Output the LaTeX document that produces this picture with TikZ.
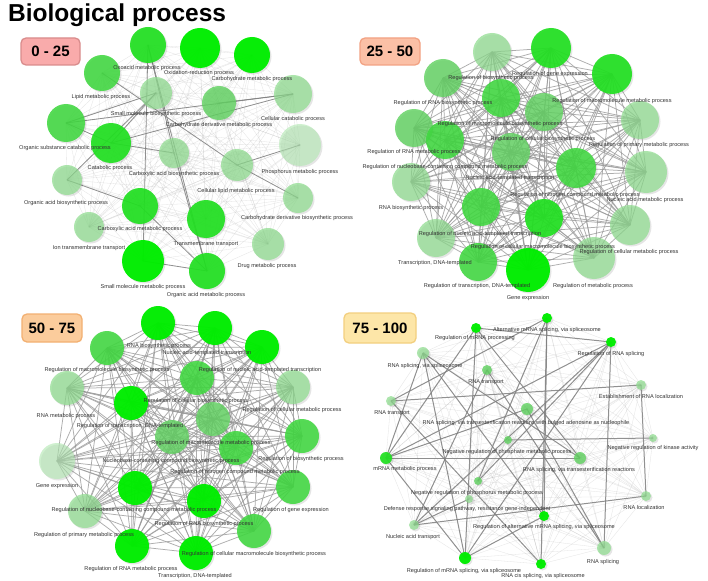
\documentclass[tikz,border=0pt]{standalone}
\usepackage{fontspec}
\setmainfont{Liberation Sans}
\definecolor{G0}{HTML}{00EE00}
\definecolor{G1}{HTML}{22E022}
\definecolor{G2}{HTML}{40D840}
\definecolor{G3}{HTML}{62D262}
\definecolor{G4}{HTML}{8EDC8E}
\definecolor{G5}{HTML}{B2E8B2}
\definecolor{TxtC}{HTML}{333333}
\definecolor{T1f}{HTML}{F9ABAB}\definecolor{T1d}{HTML}{D98C8C}
\definecolor{T2f}{HTML}{FBC0A6}\definecolor{T2d}{HTML}{F2A283}
\definecolor{T3f}{HTML}{FBCC9C}\definecolor{T3d}{HTML}{F2B072}
\definecolor{T4f}{HTML}{FDE6A8}\definecolor{T4d}{HTML}{F3CF7F}
\newcommand\mylab[4]{\node[lbl] (#1) at (#2,#3) {#4};}
\newcommand\mybubbles[2]{%
  \foreach \n/\x/\y/\r/\c in {#2} {
    \fill[black,opacity=0.1] (\x+1.5,\y+1.5) circle[radius=\r];
    \node[bub,\c,minimum size={2*\r*1pt}] (#1C\n) at (#1\n) {};
  }}
\newcommand\mycoords[2]{%
  \foreach \n/\x/\y/\r/\c in {#2} {\coordinate (#1\n) at (\x,\y);}}
\def\listA{1/148/45/18/g1,2/200/48/20/g0,3/252/55/18/g0,4/102/73/18/g2,5/156/93/16/g4,6/219/103/17/g3,7/293/94/19/g4,8/66/123/19/g2,9/111/143/20/g1,10/174/153/15/g4,11/237/165/16/g4,12/300/145/21/g5,13/67/180/15/g4,14/298/198/15/g4,15/140/206/18/g1,16/89/227/15/g4,17/206/219/19/g1,18/268/244/16/g4,19/143/261/21/g0,20/207/271/18/g1}
\def\listB{1/492/52/19/g4,2/551/48/20/g1,3/443/78/19/g3,4/612/74/20/g1,5/501/98/19/g2,6/544/112/19/g3,7/414/128/19/g3,8/640/120/19/g4,9/445/140/19/g2,10/511/152/19/g3,11/576/168/20/g2,12/646/172/21/g4,13/411/182/19/g4,14/481/207/19/g2,15/544/218/19/g1,16/630/225/20/g4,17/436/238/19/g4,18/478/262/19/g2,19/528/270/22/g0,20/594/258/21/g4}
\def\listC{1/158/323/17/g0,2/215/328/17/g0,3/107/348/17/g2,4/262/347/17/g0,5/197/378/17/g2,6/67/388/17/g4,7/293/387/17/g4,8/131/403/17/g0,9/213/419/17/g3,10/302/436/17/g2,11/172/437/17/g3,12/236/448/17/g2,13/57/461/18/g5,14/135/488/17/g0,15/204/501/17/g0,16/293/487/17/g2,17/85/511/17/g4,18/254/531/17/g2,19/132/546/17/g0,20/196/553/17/g0}
\def\listD{1/476/328/5/g0,2/547/318/5/g0,3/611/342/5/g0,4/423/353/6/g4,5/487/370/5/g3,6/641/385/5/g4,7/391/401/5/g4,8/527/409/6/g3,9/653/438/4/g4,10/508/440/4/g3,11/386/458/6/g1,12/580/458/6/g3,13/478/481/4/g3,14/469/499/4/g4,15/646/496/5/g4,16/544/516/5/g0,17/414/525/5/g4,18/604/548/7/g4,19/465/558/6/g0,20/541/564/5/g0}
\begin{document}
\begin{tikzpicture}[x=1pt,y=-1pt,
  lbl/.style={inner sep=0pt,text=TxtC,font=\fontsize{5.6}{6}\selectfont},
  bub/.style={circle,inner sep=0pt,draw=none},
  g0/.style={fill=G0,fill opacity=0.97},
  g1/.style={fill=G1,fill opacity=0.93},
  g2/.style={fill=G2,fill opacity=0.88},
  g3/.style={fill=G3,fill opacity=0.82},
  g4/.style={fill=G4,fill opacity=0.72},
  g5/.style={fill=G5,fill opacity=0.62},
  efaint/.style={line width=0.3pt,black!35,opacity=0.3},
  egrid/.style={line width=0.75pt,black!40,opacity=0.8},
  edark/.style={line width=0.8pt,black!50,opacity=0.85},
  tagbox/.style={rounded corners=5pt,line width=1.3pt,minimum height=27pt,inner sep=0pt,font=\fontsize{15}{16}\bfseries}]
\useasboundingbox (0,0) rectangle (708,580);
\fill[white] (0,0) rectangle (708,580);
% coordinates
\expandafter\mycoords\expandafter{\expandafter a\expandafter}\expandafter{\listA}
\expandafter\mycoords\expandafter{\expandafter b\expandafter}\expandafter{\listB}
\expandafter\mycoords\expandafter{\expandafter c\expandafter}\expandafter{\listC}
\expandafter\mycoords\expandafter{\expandafter d\expandafter}\expandafter{\listD}
% complete graphs
\foreach \p/\st in {a/efaint,b/egrid,c/egrid,d/efaint}{
  \foreach \i in {1,...,19}{
    \pgfmathtruncatemacro{\s}{\i+1}
    \foreach \j in {\s,...,20}{\draw[\st] (\p\i) -- (\p\j);}
  }
}
% darker edges panel 1
\foreach \u/\v in {1/19,1/20,1/10,8/5,8/9,9/7,8/7,6/7,12/11,13/15,13/5,15/20,10/20,19/20,4/11,5/9,11/14,9/10}
  {\draw[edark] (a\u) -- (a\v);}
% darker edges panel 4
\foreach \u/\v in {1/19,1/3,2/16,2/20,3/11,3/19,4/12,5/17,6/7,11/12,17/15,15/6,16/19,11/19,1/11,8/18,10/9,4/19,4/16,13/2,7/20,3/17,1/12,5/18,2/7,8/11,14/17,3/13,4/11,3/18}
  {\draw[edark,line width=1pt] (d\u) -- (d\v);}
% bubbles
\expandafter\mybubbles\expandafter{\expandafter a\expandafter}\expandafter{\listA}
\expandafter\mybubbles\expandafter{\expandafter b\expandafter}\expandafter{\listB}
\expandafter\mybubbles\expandafter{\expandafter c\expandafter}\expandafter{\listC}
\expandafter\mybubbles\expandafter{\expandafter d\expandafter}\expandafter{\listD}
% labels panel 1
\mylab{la1}{147}{68}{Oxoacid metabolic process}
\mylab{la2}{199}{73}{Oxidation-reduction process}
\mylab{la3}{252}{79}{Carbohydrate metabolic process}
\mylab{la4}{101}{97}{Lipid metabolic process}
\mylab{la5}{156}{114}{Small molecule biosynthetic process}
\mylab{la6}{293}{119}{Cellular catabolic process}
\mylab{la7}{219}{125}{Carbohydrate derivative metabolic process}
\mylab{la8}{65}{148}{Organic substance catabolic process}
\mylab{la9}{110}{168}{Catabolic process}
\mylab{la10}{174}{174}{Carboxylic acid biosynthetic process}
\mylab{la11}{300}{172}{Phosphorus metabolic process}
\mylab{la12}{236}{191}{Cellular lipid metabolic process}
\mylab{la13}{66}{203}{Organic acid biosynthetic process}
\mylab{la14}{297}{218}{Carbohydrate derivative biosynthetic process}
\mylab{la15}{140}{229}{Carboxylic acid metabolic process}
\mylab{la16}{89}{248}{Ion transmembrane transport}
\mylab{la17}{206}{244}{Transmembrane transport}
\mylab{la18}{267}{266}{Drug metabolic process}
\mylab{la19}{143}{287}{Small molecule metabolic process}
\mylab{la20}{206}{295}{Organic acid metabolic process}
% labels panel 2
\mylab{lb1}{550}{74}{Regulation of gene expression}
\mylab{lb2}{491}{78}{Regulation of biosynthetic process}
\mylab{lb3}{443}{103}{Regulation of RNA biosynthetic process}
\mylab{lb4}{612}{101}{Regulation of macromolecule metabolic process}
\mylab{lb5}{500}{124}{Regulation of macromolecule biosynthetic process}
\mylab{lb6}{543}{139}{Regulation of cellular biosynthetic process}
\mylab{lb7}{639}{145}{Regulation of primary metabolic process}
\mylab{lb8}{414}{152}{Regulation of RNA metabolic process}
\mylab{lb9}{445}{167}{Regulation of nucleobase-containing compound metabolic process}
\mylab{lb10}{510}{178}{Nucleic acid-templated transcription}
\mylab{lb11}{575}{195}{Regulation of nitrogen compound metabolic process}
\mylab{lb12}{645}{200}{Nucleic acid metabolic process}
\mylab{lb13}{411}{208}{RNA biosynthetic process}
\mylab{lb14}{480}{234}{Regulation of nucleic acid-templated transcription}
\mylab{lb15}{543}{247}{Regulation of cellular macromolecule biosynthetic process}
\mylab{lb16}{629}{252}{Regulation of cellular metabolic process}
\mylab{lb17}{435}{263}{Transcription, DNA-templated}
\mylab{lb18}{477}{286}{Regulation of transcription, DNA-templated}
\mylab{lb19}{593}{286}{Regulation of metabolic process}
\mylab{lb20}{528}{298}{Gene expression}
% labels panel 3
\mylab{lc1}{159}{346}{RNA biosynthetic process}
\mylab{lc2}{207}{353}{Nucleic acid-templated transcription}
\mylab{lc3}{107}{370}{Regulation of macromolecule biosynthetic process}
\mylab{lc4}{260}{370}{Regulation of nucleic acid-templated transcription}
\mylab{lc5}{196}{401}{Regulation of cellular biosynthetic process}
\mylab{lc6}{292}{410}{Regulation of cellular metabolic process}
\mylab{lc7}{66}{416}{RNA metabolic process}
\mylab{lc8}{130}{426}{Regulation of transcription, DNA-templated}
\mylab{lc9}{211}{443}{Regulation of macromolecule metabolic process}
\mylab{lc10}{171}{461}{Nucleobase-containing compound biosynthetic process}
\mylab{lc11}{301}{459}{Regulation of biosynthetic process}
\mylab{lc12}{235}{472}{Regulation of nitrogen compound metabolic process}
\mylab{lc13}{57}{486}{Gene expression}
\mylab{lc14}{134}{510}{Regulation of nucleobase-containing compound metabolic process}
\mylab{lc15}{291}{510}{Regulation of gene expression}
\mylab{lc16}{204}{524}{Regulation of RNA biosynthetic process}
\mylab{lc17}{84}{535}{Regulation of primary metabolic process}
\mylab{lc18}{254}{554}{Regulation of cellular macromolecule biosynthetic process}
\mylab{lc19}{131}{569}{Regulation of RNA metabolic process}
\mylab{lc20}{195}{576}{Transcription, DNA-templated}
% labels panel 4
\mylab{ld1}{547}{330}{Alternative mRNA splicing, via spliceosome}
\mylab{ld2}{475}{338}{Regulation of mRNA processing}
\mylab{ld3}{611}{354}{Regulation of RNA splicing}
\mylab{ld4}{425}{366}{RNA splicing, via spliceosome}
\mylab{ld5}{486}{382}{RNA transport}
\mylab{ld6}{641}{396}{Establishment of RNA localization}
\mylab{ld7}{392}{413}{RNA transport}
\mylab{ld8}{526}{423}{RNA splicing, via transesterification reactions with bulged adenosine as nucleophile}
\mylab{ld9}{507}{452}{Negative regulation of phosphate metabolic process}
\mylab{ld10}{653}{448}{Negative regulation of kinase activity}
\mylab{ld11}{405}{469}{mRNA metabolic process}
\mylab{ld12}{579}{470}{RNA splicing, via transesterification reactions}
\mylab{ld13}{477}{493}{Negative regulation of phosphorus metabolic process}
\mylab{ld14}{467}{509}{Defense response signaling pathway, resistance gene-independent}
\mylab{ld15}{644}{507}{RNA localization}
\mylab{ld16}{544}{527}{Regulation of alternative mRNA splicing, via spliceosome}
\mylab{ld17}{413}{537}{Nucleic acid transport}
\mylab{ld18}{603}{562}{RNA splicing}
\mylab{ld19}{464}{571}{Regulation of mRNA splicing, via spliceosome}
\mylab{ld20}{543}{576}{RNA cis splicing, via spliceosome}
% tags
\node[tagbox,fill=T1f,draw=T1d,minimum width=59pt] (tag1) at (50.5,51.5) {0 - 25};
\node[tagbox,fill=T2f,draw=T2d,minimum width=60pt] (tag2) at (390,51.5) {25 - 50};
\node[tagbox,fill=T3f,draw=T3d,minimum width=60pt,minimum height=28pt] (tag3) at (52,328) {50 - 75};
\node[tagbox,fill=T4f,draw=T4d,minimum width=72pt,minimum height=30pt] (tag4) at (380,328) {75 - 100};
% title
\node[anchor=base west,inner sep=0pt,font=\fontsize{24.5}{26}\bfseries] (title) at (8,22) {Biological process};
\end{tikzpicture}
\end{document}
